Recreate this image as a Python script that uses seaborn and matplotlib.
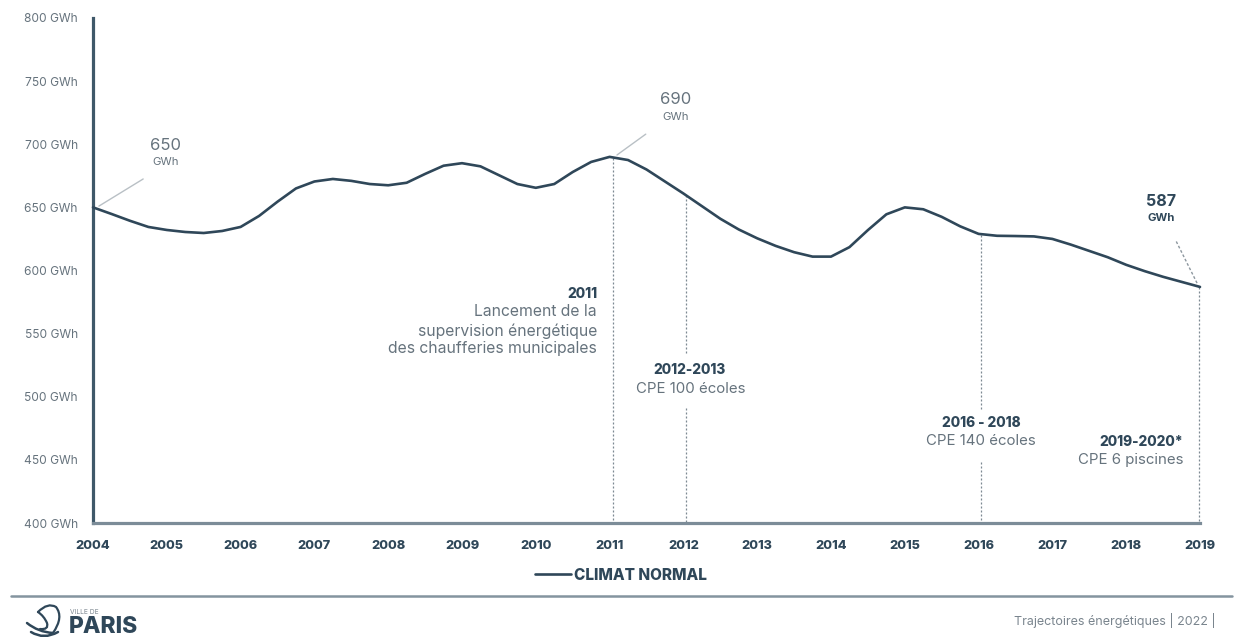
import matplotlib
matplotlib.use("Agg")
import matplotlib.pyplot as plt
from matplotlib.lines import Line2D
from matplotlib.patches import PathPatch
from matplotlib.path import Path
import numpy as np
import pandas as pd
import seaborn as sns

# Consumption curve, one reading per quarter of a year from 2004 to 2019
quarters = [2004 + i / 4 for i in range(61)]
consumption = [
    650.0, 644.8, 639.4, 634.5, 632.1, 630.5, 629.7, 631.3, 634.5, 643.2, 654.5, 665.0,
    670.5, 672.5, 671.0, 668.5, 667.5, 669.5, 676.5, 683.0, 685.0, 682.5, 675.5, 668.5,
    665.5, 668.5, 678.0, 686.0, 690.0, 687.5, 680.0, 670.5, 661.0, 651.0, 641.0, 632.5,
    625.5, 619.5, 614.5, 611.0, 611.0, 618.5, 632.0, 644.5, 650.0, 648.5, 642.5, 635.0,
    629.0, 627.5, 627.3, 627.0, 625.0, 620.5, 615.5, 610.5, 604.5, 599.5, 595.0, 591.0,
    587.0,
]
year_ticks = list(range(2004, 2020))
gwh_ticks = [400, 450, 500, 550, 600, 650, 700, 750, 800]
gwh_labels = [f"{v} GWh" for v in gwh_ticks]

# Milestone drop lines: year, top and bottom of each dotted stretch
drop_lines = [
    (2011.05, 689.0, 400),
    (2012.04, 660.0, 533),
    (2012.04, 491, 400),
    (2016.03, 628.5, 489),
    (2016.03, 448, 400),
    (2018.98, 587.0, 400),
]
# Leader strokes towards the value callouts
leaders = [
    ([2004.08, 2004.68], [651, 672.5]),
    ([2011.1, 2011.49], [691.5, 708]),
    ([2018.96, 2018.67], [590, 624]),
]

W, H = 1236, 638
DARK = "#2f4759"
GREY = "#66737d"

sns.set_theme(style="white")
plt.rcParams["font.family"] = ["Inter", "DejaVu Sans"]

fig = plt.figure(figsize=(W / 100, H / 100), dpi=100, facecolor="white")
ax = fig.add_axes([93 / W, 1 - 523 / H, (1200 - 93) / W, (523 - 18) / H])

frame = pd.DataFrame({"annee": quarters, "gwh": consumption})
sns.lineplot(data=frame, x="annee", y="gwh", ax=ax, color=DARK, linewidth=1.9,
             label="CLIMAT NORMAL", zorder=4, solid_joinstyle="round", clip_on=False)

ax.set_xlim(2004, 2019)
ax.set_ylim(400, 800)
ax.set_xlabel("")
ax.set_ylabel("")
ax.set_xticks(year_ticks)
ax.set_yticks(gwh_ticks)
ax.set_yticklabels(gwh_labels)
ax.tick_params(axis="y", length=3, width=1.6, color=DARK, pad=8, labelsize=8.6, labelcolor=GREY)
ax.tick_params(axis="x", length=3, width=2, color=DARK, pad=9, labelsize=9.2, labelcolor=DARK)
for lab in ax.get_xticklabels():
    lab.set_fontweight("heavy")
sns.despine(ax=ax)
ax.spines["left"].set_color("#3f5869")
ax.spines["left"].set_linewidth(2.3)
ax.spines["bottom"].set_color("#7c8c98")
ax.spines["bottom"].set_linewidth(2.3)

for year, top, bottom in drop_lines:
    ax.plot([year, year], [top, bottom], color="#7d8992", lw=0.9, ls=(0, (1.6, 1.6)),
            zorder=2, clip_on=False)
for xs, ys in leaders[:2]:
    ax.plot(xs, ys, color="#b9c0c5", lw=1.0, zorder=2)
ax.plot(*leaders[2], color="#8d979f", lw=1.0, ls=(0, (2, 1.5)), zorder=2)

legend = ax.legend(loc="center", bbox_to_anchor=(621 / W, 1 - 575 / H),
                   bbox_transform=fig.transFigure, frameon=False, handlelength=2.3,
                   handletextpad=0.2, borderpad=0, fontsize=11.0)
for t in legend.get_texts():
    t.set_fontweight("heavy")
    t.set_color(DARK)


def label(x, y, text, size, color=GREY, weight="normal", ha="center"):
    """Place a caption by its pixel position on the canvas."""
    fig.text(x / W, 1 - y / H, text, fontsize=size, color=color, fontweight=weight,
             ha=ha, va="center")


# Value callouts
label(166, 145, "650", 12, GREY)
label(166, 162, "GWh", 8.2, GREY)
label(676, 99, "690", 12, GREY)
label(676, 117, "GWh", 8.2, GREY)
label(1161, 201, "587", 11.6, DARK, "bold")
label(1161, 218, "GWh", 8.2, DARK, "bold")

# Milestone captions
label(597, 294, "2011", 9.9, DARK, "heavy", "right")
label(597, 312, "Lancement de la", 11.3, GREY, ha="right")
label(597, 331, "supervision énergétique", 11.3, GREY, ha="right")
label(597, 349, "des chaufferies municipales", 11.3, GREY, ha="right")
label(689, 370, "2012-2013", 9.9, DARK, "heavy")
label(691, 389, "CPE 100 écoles", 10.8, GREY)
label(981, 423, "2016 - 2018", 9.9, DARK, "heavy")
label(981, 441, "CPE 140 écoles", 10.8, GREY)
label(1183, 442, "2019-2020*", 9.9, DARK, "heavy", "right")
label(1183, 460, "CPE 6 piscines", 10.8, GREY, ha="right")

# Footer rule, credit and city mark
fig.add_artist(Line2D([11 / W, 1232 / W], [1 - 596 / H, 1 - 596 / H], color="#84949f", lw=1.8))
label(1216, 620, "Trajectoires énergétiques | 2022 |", 9, "#7a858e", ha="right")
label(70, 612, "VILLE DE", 4.8, "#7a858e", ha="left")
label(69, 627, "PARIS", 16.5, DARK, "heavy", "left")


def stroke(points, width=1.6):
    """Draw one smooth stroke of the emblem, given canvas pixels."""
    verts = [(x / W, 1 - y / H) for x, y in points]
    codes = [Path.MOVETO] + [Path.CURVE3] * (len(verts) - 1)
    fig.add_artist(PathPatch(Path(verts, codes), fill=False, edgecolor=DARK, lw=width,
                             transform=fig.transFigure, capstyle="round"))


stroke([(38, 612), (48, 602), (56, 607), (64, 617), (53, 633)])
stroke([(38, 612), (44, 616), (47, 623), (49, 630), (40, 629)])
stroke([(27, 623), (38, 632), (53, 633)], 1.8)
stroke([(31, 632), (44, 640), (58, 632)], 1.8)

fig.savefig("out.png", dpi=100, facecolor="white")
